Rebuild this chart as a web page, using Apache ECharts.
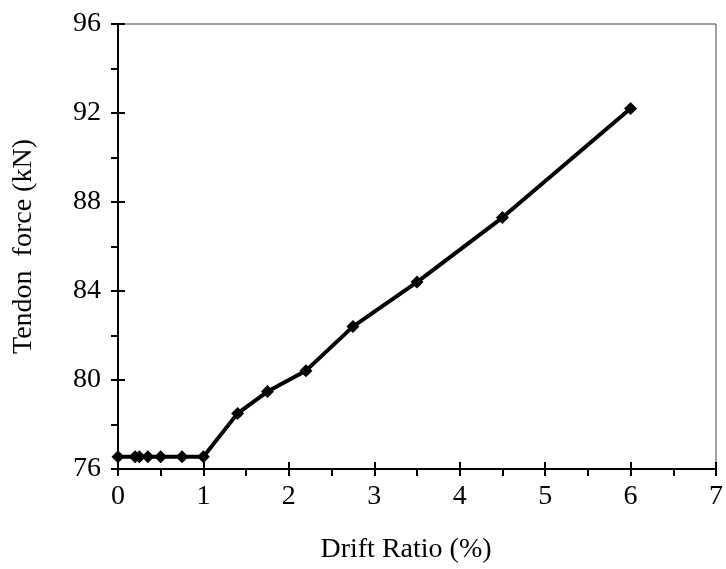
<!DOCTYPE html>
<html>
<head>
<meta charset="utf-8">
<script src="https://cdn.jsdelivr.net/npm/echarts@6/dist/echarts.min.js"></script>
<style>
  html, body { margin: 0; padding: 0; background: #fff; }
  #chart { width: 726px; height: 569px; }
</style>
</head>
<body>
<div id="chart"></div>
<script>
// drift ratio (%) vs tendon force (kN)
const driftRatio = [0, 0.2, 0.25, 0.35, 0.5, 0.75, 1.0, 1.4, 1.75, 2.2, 2.75, 3.5, 4.5, 6.0]
const tendonForce = [76.55, 76.55, 76.55, 76.55, 76.55, 76.55, 76.55, 78.5, 79.48, 80.42, 82.4, 84.4, 87.3, 92.2]

const font = 'Liberation Serif'
const chart = echarts.init(document.getElementById('chart'), null, { renderer: 'canvas' })

const lineStyle = { color: '#000', width: 2 }

function xAxisBase(extra) {
  return Object.assign({
    type: 'value',
    position: 'bottom',
    min: 0,
    max: 7,
    interval: 1,
    splitLine: { show: false }
  }, extra)
}

function yAxisBase(extra) {
  return Object.assign({
    type: 'value',
    position: 'left',
    min: 76,
    max: 96,
    interval: 4,
    splitLine: { show: false }
  }, extra)
}

chart.setOption({
  animation: false,
  grid: {
    left: 118, right: 5, top: 24, bottom: 92,
    show: true, borderColor: '#444', borderWidth: 1, backgroundColor: 'transparent'
  },
  xAxis: [
    xAxisBase({
      name: 'Drift Ratio (%)',
      nameLocation: 'middle',
      nameGap: 67,
      // title sits a little left of the plot centre
      nameTextStyle: { color: '#000', fontFamily: font, fontSize: 28, padding: [0, 22, 0, 0] },
      axisLine: { show: true, lineStyle: lineStyle },
      axisTick: { show: true, length: 7, lineStyle: lineStyle },
      minorTick: { show: true, splitNumber: 2, length: 7, lineStyle: lineStyle },
      axisLabel: { color: '#000', fontFamily: font, fontSize: 28, margin: 14, showMaxLabel: true }
    }),
    xAxisBase({
      axisLine: { show: false },
      axisTick: { show: true, inside: true, length: 7, lineStyle: lineStyle },
      axisLabel: { show: false }
    })
  ],
  yAxis: [
    yAxisBase({
      name: 'Tendon  force (kN)',
      nameLocation: 'middle',
      nameGap: 80,
      nameTextStyle: { color: '#000', fontFamily: font, fontSize: 28 },
      axisLine: { show: true, lineStyle: lineStyle },
      axisTick: { show: true, length: 7, lineStyle: lineStyle },
      minorTick: { show: true, splitNumber: 2, length: 7, lineStyle: lineStyle },
      axisLabel: { color: '#000', fontFamily: font, fontSize: 28, margin: 17 }
    }),
    yAxisBase({
      axisLine: { show: false },
      axisTick: { show: true, inside: true, length: 7, lineStyle: lineStyle },
      axisLabel: { show: false }
    })
  ],
  series: [{
    type: 'line',
    data: driftRatio.map((x, i) => [x, tendonForce[i]]),
    symbol: 'diamond',
    symbolSize: 13,
    lineStyle: { color: '#000', width: 4 },
    itemStyle: { color: '#000' }
  }]
})
</script>
</body>
</html>
